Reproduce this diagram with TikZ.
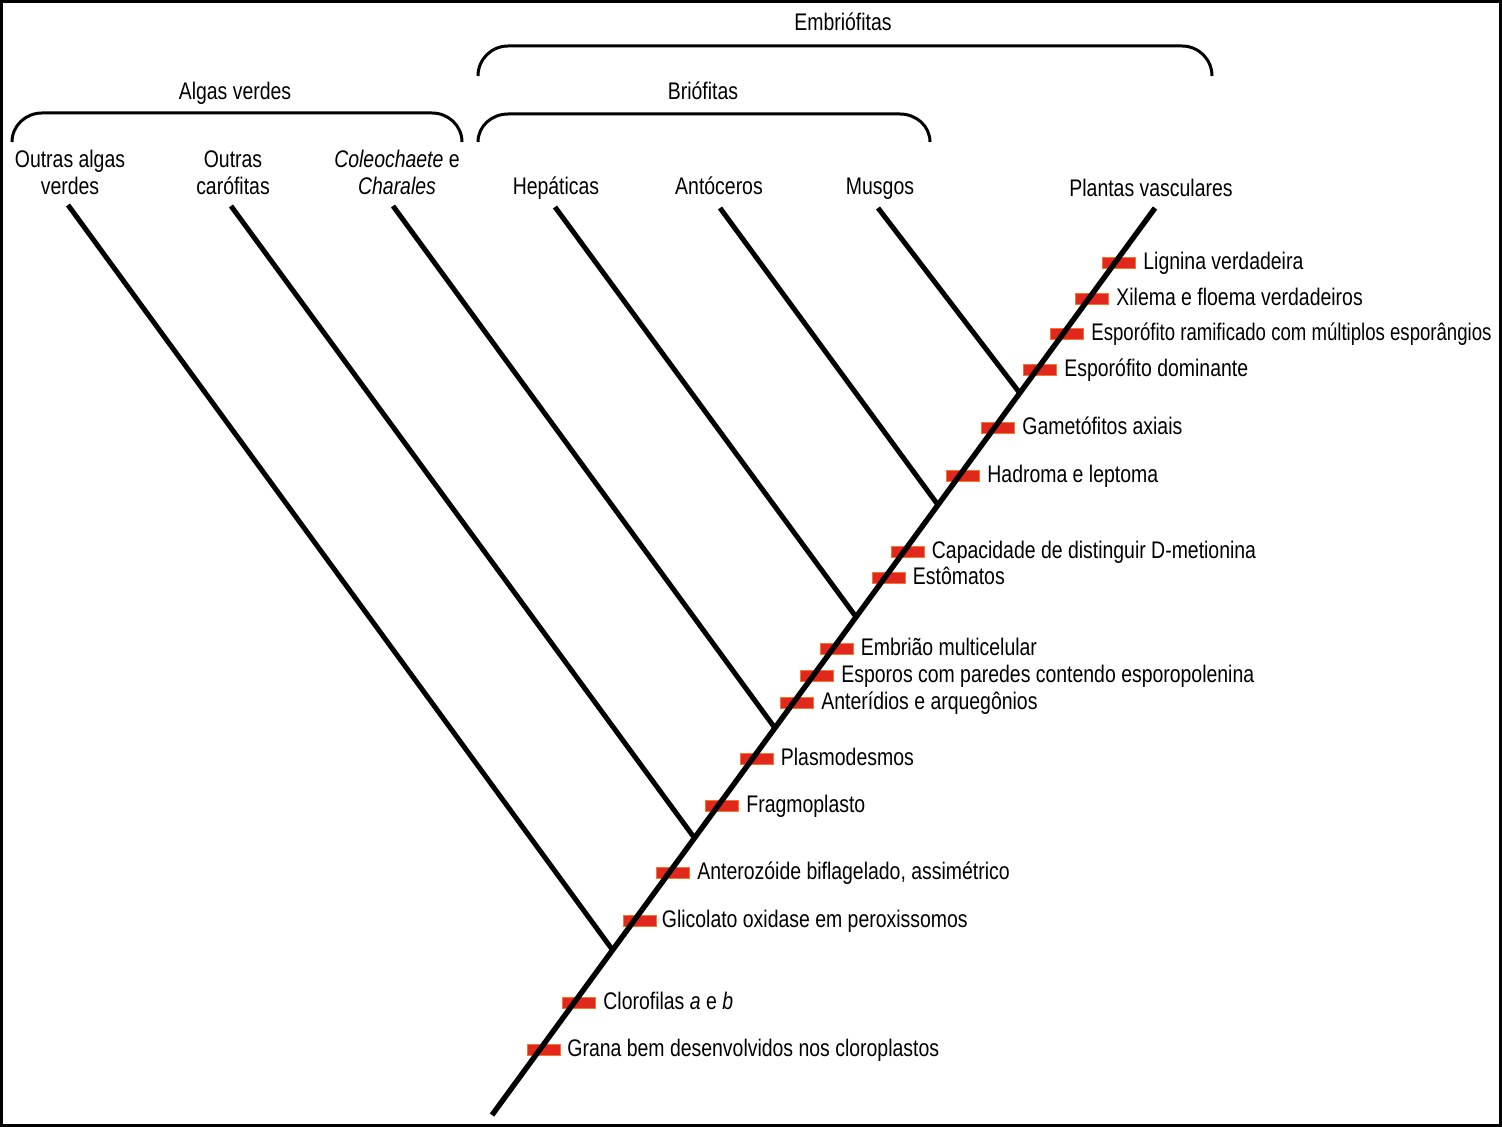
\documentclass[tikz,border=0pt]{standalone}
\usepackage{fontspec}
\setmainfont[FakeStretch=0.81]{Liberation Sans}
\newfontfamily\narrowfont[FakeStretch=0.775]{Liberation Sans}
\usetikzlibrary{calc}
\definecolor{barred}{RGB}{226,40,28}
\definecolor{barorange}{RGB}{240,120,50}
\begin{document}
\begin{tikzpicture}[x=0.5pt,y=-0.5pt,
  font=\fontsize{12}{13.5}\selectfont,
  bar/.style={rectangle, fill=barred, draw=barorange, line width=0.5pt,
    minimum width=16.5pt, minimum height=5.5pt, inner sep=0pt},
  trait/.style={anchor=base west, inner sep=0pt},
  taxon/.style={anchor=base, inner sep=0pt, align=center},
  title/.style={anchor=base, inner sep=0pt},
  stem/.style={line width=2.7pt, black},
  branch/.style={line width=2.5pt, black},
  brace/.style={line width=1.5pt, black}]
\useasboundingbox (0,0) rectangle (1502,1127);
\draw[line width=1.5pt] (1.5,1.5) rectangle (1500.5,1125.5);

% titles and braces
\node[title] (embr) at (843,31) {Embriófitas};
\node[title] (algas) at (235,100) {Algas verdes};
\node[title] (brio) at (703,100) {Briófitas};
\draw[brace] (478,76) to[out=90,in=180] (508,46) -- (1182,46) to[out=0,in=90] (1212,76);
\draw[brace] (12,142) to[out=90,in=180] (42,113) -- (432,113) to[out=0,in=90] (462,142);
\draw[brace] (478,142) to[out=90,in=180] (508,114) -- (900,114) to[out=0,in=90] (930,142);

% taxa
\node[taxon] (t1) at (70,195) {Outras algas\\verdes};
\node[taxon] (t2) at (233,195) {Outras\\carófitas};
\node[taxon] (t3) at (397,195) {\textit{Coleochaete} e\\\textit{Charales}};
\node[taxon] (t4) at (556,195) {Hepáticas};
\node[taxon] (t5) at (719,195) {Antóceros};
\node[taxon] (t6) at (880,195) {Musgos};
\node[taxon] (t7) at (1151,197) {Plantas vasculares};

% main stem end points
\coordinate (A) at (492,1115);
\coordinate (B) at (1155,208);

% character bars
\node[bar] (b1)  at (1119,263)   {};
\node[bar] (b2)  at (1092,299.5) {};
\node[bar] (b3)  at (1067,334)   {};
\node[bar] (b4)  at (1040,370.5) {};
\node[bar] (b5)  at (998,428)    {};
\node[bar] (b6)  at (963,476)    {};
\node[bar] (b7)  at (907.5,552)  {};
\node[bar] (b8)  at (888.5,578)  {};
\node[bar] (b9)  at (836.5,649)  {};
\node[bar] (b10) at (817,676)    {};
\node[bar] (b11) at (797,703)    {};
\node[bar] (b12) at (756.5,758.5){};
\node[bar] (b13) at (722,806)    {};
\node[bar] (b14) at (673,873)    {};
\node[bar] (b15) at (639.5,921)  {};
\node[bar] (b16) at (579,1002.5) {};
\node[bar] (b17) at (544,1049.5) {};

\node[trait] (c1)  at ($(b1.east)+(7,6.5)$)  {Lignina verdadeira};
\node[trait] (c2)  at ($(b2.east)+(7,6.5)$)  {Xilema e floema verdadeiros};
\node[trait] (c3)  at ($(b3.east)+(7,6.5)$)  {\narrowfont Esporófito ramificado com múltiplos esporângios};
\node[trait] (c4)  at ($(b4.east)+(7,6.5)$)  {Esporófito dominante};
\node[trait] (c5)  at ($(b5.east)+(7,6.5)$)  {Gametófitos axiais};
\node[trait] (c6)  at ($(b6.east)+(7,6.5)$)  {Hadroma e leptoma};
\node[trait] (c7)  at ($(b7.east)+(7,6.5)$)  {Capacidade de distinguir D-metionina};
\node[trait] (c8)  at ($(b8.east)+(7,6.5)$)  {Estômatos};
\node[trait] (c9)  at ($(b9.east)+(7,6.5)$)  {Embrião multicelular};
\node[trait] (c10) at ($(b10.east)+(7,6.5)$) {Esporos com paredes contendo esporopolenina};
\node[trait] (c11) at ($(b11.east)+(7,6.5)$) {Anterídios e arquegônios};
\node[trait] (c12) at ($(b12.east)+(7,6.5)$) {Plasmodesmos};
\node[trait] (c13) at ($(b13.east)+(7,6.5)$) {Fragmoplasto};
\node[trait] (c14) at ($(b14.east)+(7,6.5)$) {Anterozóide biflagelado, assimétrico};
\node[trait] (c15) at ($(b15.east)+(5,6.5)$) {Glicolato oxidase em peroxissomos};
\node[trait] (c16) at ($(b16.east)+(7,6.5)$) {Clorofilas \textit{a} e \textit{b}};
\node[trait] (c17) at ($(b17.east)+(6,6.5)$) {Grana bem desenvolvidos nos cloroplastos};

% branch tips and joins
\coordinate (p1) at (68,205);
\coordinate (p2) at (231,206);
\coordinate (p3) at (393,206);
\coordinate (p4) at (555,207);
\coordinate (p5) at (720,208);
\coordinate (p6) at (878,208);
\coordinate (j1) at ($(A)!0.1819!(B)$);
\coordinate (j2) at ($(A)!0.3054!(B)$);
\coordinate (j3) at ($(A)!0.4267!(B)$);
\coordinate (j4) at ($(A)!0.5491!(B)$);
\coordinate (j5) at ($(A)!0.6726!(B)$);
\coordinate (j6) at ($(A)!0.7960!(B)$);

\draw[stem] (A) -- (B);
\draw[branch] (p1) -- (j1);
\draw[branch] (p2) -- (j2);
\draw[branch] (p3) -- (j3);
\draw[branch] (p4) -- (j4);
\draw[branch] (p5) -- (j5);
\draw[branch] (p6) -- (j6);
\end{tikzpicture}
\end{document}
